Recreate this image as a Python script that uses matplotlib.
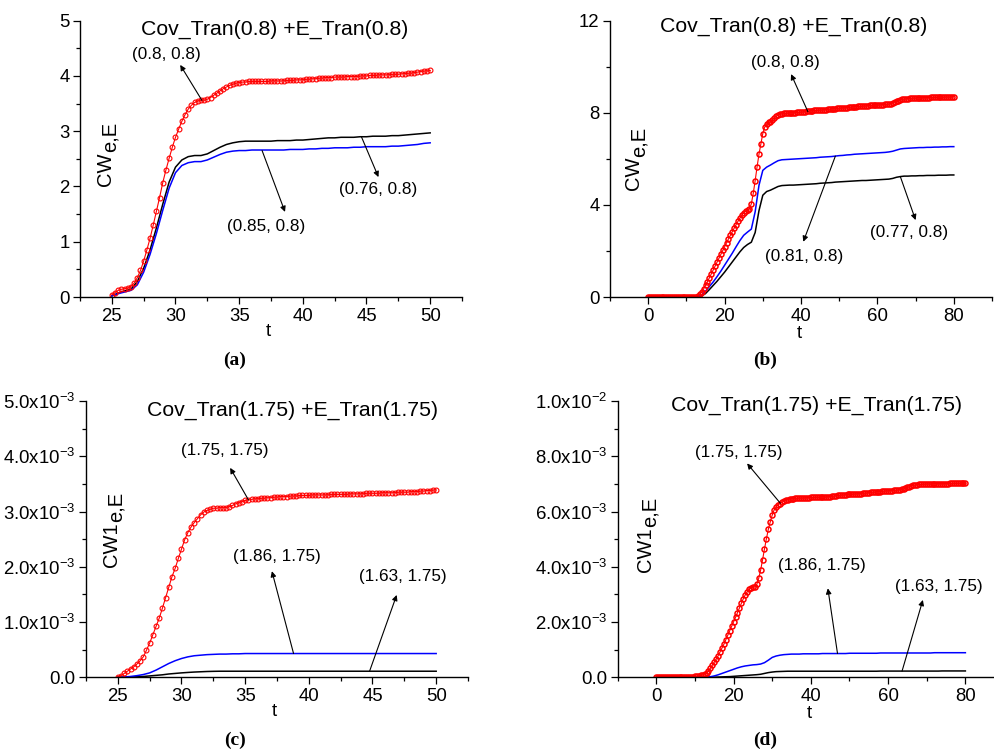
import numpy as np
import matplotlib
matplotlib.use("Agg")
import matplotlib.pyplot as plt
from matplotlib.ticker import MultipleLocator, FuncFormatter

plt.rcParams['font.family'] = ['Liberation Sans', 'DejaVu Sans']
plt.rcParams['mathtext.fontset'] = 'custom'
plt.rcParams['mathtext.rm'] = 'Liberation Sans'
plt.rcParams['mathtext.it'] = 'Liberation Sans:italic'

# ---------------- data ----------------
# panel (a): t = 25..50, red every 0.25, lines every 0.5
t_a_red = np.arange(25, 50.001, 0.25)
t_a_line = np.arange(25, 50.001, 0.5)
a_red = [
    0.04, 0.08, 0.12, 0.14,
    0.15, 0.16, 0.19, 0.25,
    0.35, 0.48, 0.65, 0.85,
    1.06, 1.30, 1.55, 1.80,
    2.07, 2.30, 2.51, 2.71,
    2.89, 3.04, 3.18, 3.30,
    3.40, 3.47, 3.52, 3.55,
    3.56, 3.56, 3.58, 3.61,
    3.65, 3.69, 3.73, 3.77,
    3.80, 3.83, 3.85, 3.87,
    3.88, 3.89, 3.89, 3.90,
    3.90, 3.90, 3.90, 3.90,
    3.90, 3.90, 3.91, 3.91,
    3.91, 3.91, 3.91, 3.92,
    3.92, 3.92, 3.93, 3.93,
    3.93, 3.94, 3.94, 3.95,
    3.95, 3.96, 3.96, 3.97,
    3.97, 3.97, 3.98, 3.98,
    3.98, 3.98, 3.99, 3.99,
    3.99, 3.99, 4.00, 4.00,
    4.00, 4.01, 4.01, 4.01,
    4.02, 4.02, 4.02, 4.02,
    4.03, 4.03, 4.03, 4.04,
    4.04, 4.05, 4.05, 4.06,
    4.07, 4.08, 4.09, 4.09,
    4.10]
a_black = [
    0.02, 0.07, 0.11, 0.14, 0.28, 0.52, 0.85, 1.25, 1.68, 2.08,
    2.35, 2.48, 2.54, 2.56, 2.56, 2.59, 2.65, 2.71, 2.76, 2.79,
    2.81, 2.82, 2.82, 2.82, 2.82, 2.82, 2.83, 2.83, 2.83, 2.84,
    2.84, 2.85, 2.86, 2.87, 2.88, 2.88, 2.89, 2.89, 2.89, 2.90,
    2.90, 2.91, 2.91, 2.91, 2.92, 2.92, 2.93, 2.94, 2.95, 2.96,
    2.97]
a_blue = [
    0.02, 0.06, 0.09, 0.12, 0.22, 0.45, 0.77, 1.15, 1.57, 1.97,
    2.25, 2.38, 2.43, 2.45, 2.45, 2.48, 2.53, 2.58, 2.62, 2.64,
    2.65, 2.65, 2.66, 2.66, 2.66, 2.66, 2.66, 2.66, 2.67, 2.67,
    2.67, 2.68, 2.68, 2.69, 2.69, 2.70, 2.70, 2.70, 2.71, 2.71,
    2.72, 2.72, 2.72, 2.72, 2.73, 2.73, 2.74, 2.75, 2.76, 2.78,
    2.79]

# panel (b): t = 0..80, red every 0.5, lines every 1
t_b_red = np.arange(0, 80.001, 0.5)
t_b_line = np.arange(0, 81, 1)
b_red = [
    0.00, 0.00, 0.00, 0.00, 0.00, 0.00, 0.00, 0.00, 0.00, 0.00,
    0.00, 0.00, 0.00, 0.00, 0.00, 0.00, 0.00, 0.00, 0.00, 0.00,
    0.00, 0.00, 0.00, 0.00, 0.01, 0.02, 0.05, 0.12, 0.22, 0.35,
    0.50, 0.66, 0.83, 1.00, 1.17, 1.34, 1.51, 1.68, 1.85, 2.02,
    2.19, 2.36, 2.52, 2.68, 2.84, 2.99, 3.14, 3.29, 3.43, 3.56,
    3.66, 3.73, 3.76, 3.82, 4.05, 4.50, 5.05, 5.65, 6.20, 6.65,
    7.10, 7.38, 7.52, 7.58, 7.62, 7.68, 7.76, 7.84, 7.90, 7.94,
    7.96, 7.97, 7.98, 7.99, 7.99, 8.00, 8.00, 8.01, 8.02, 8.02,
    8.03, 8.04, 8.05, 8.06, 8.07, 8.08, 8.09, 8.10, 8.10, 8.11,
    8.12, 8.13, 8.14, 8.14, 8.15, 8.16, 8.17, 8.18, 8.18, 8.19,
    8.20, 8.21, 8.22, 8.22, 8.23, 8.24, 8.25, 8.26, 8.26, 8.27,
    8.28, 8.28, 8.29, 8.30, 8.30, 8.31, 8.32, 8.32, 8.33, 8.33,
    8.34, 8.35, 8.35, 8.36, 8.37, 8.37, 8.38, 8.40, 8.42, 8.46,
    8.50, 8.53, 8.56, 8.58, 8.60, 8.61, 8.62, 8.63, 8.63, 8.64,
    8.64, 8.65, 8.65, 8.65, 8.66, 8.66, 8.66, 8.66, 8.67, 8.67,
    8.67, 8.67, 8.68, 8.68, 8.68, 8.68, 8.69, 8.69, 8.69, 8.70,
    8.70]
b_blue = [
    0, 0, 0, 0, 0, 0, 0, 0, 0, 0,
    0, 0, 0, 0.01, 0.08, 0.25, 0.45, 0.65, 0.88, 1.12,
    1.38, 1.64, 1.90, 2.18, 2.45, 2.68, 2.82, 2.95, 3.70, 4.85,
    5.50, 5.64, 5.73, 5.83, 5.92, 5.96, 5.97, 5.98, 5.99, 6.00,
    6.01, 6.02, 6.03, 6.04, 6.05, 6.07, 6.08, 6.09, 6.10, 6.12,
    6.14, 6.15, 6.17, 6.18, 6.20, 6.21, 6.22, 6.23, 6.24, 6.25,
    6.26, 6.27, 6.28, 6.30, 6.33, 6.38, 6.43, 6.45, 6.46, 6.47,
    6.48, 6.49, 6.49, 6.50, 6.50, 6.51, 6.51, 6.52, 6.52, 6.53,
    6.53]
b_black = [
    0, 0, 0, 0, 0, 0, 0, 0, 0, 0,
    0, 0, 0, 0, 0.05, 0.15, 0.32, 0.50, 0.68, 0.88,
    1.08, 1.30, 1.52, 1.74, 1.96, 2.15, 2.28, 2.38, 2.80, 3.75,
    4.42, 4.58, 4.64, 4.72, 4.80, 4.84, 4.85, 4.86, 4.86, 4.87,
    4.88, 4.89, 4.90, 4.91, 4.92, 4.94, 4.95, 4.96, 4.97, 4.99,
    5.00, 5.01, 5.02, 5.03, 5.04, 5.05, 5.06, 5.06, 5.07, 5.08,
    5.09, 5.10, 5.11, 5.12, 5.15, 5.20, 5.23, 5.25, 5.25, 5.26,
    5.26, 5.27, 5.27, 5.28, 5.28, 5.28, 5.29, 5.29, 5.29, 5.30,
    5.30]

# panel (c): values in units of 1e-3
t_c_red = np.arange(25, 50.001, 0.25)
t_c_line = np.arange(25, 50.001, 0.5)
c_red = [
    0.01, 0.03, 0.07, 0.11,
    0.15, 0.19, 0.24, 0.30,
    0.37, 0.49, 0.62, 0.77,
    0.92, 1.07, 1.25, 1.44,
    1.63, 1.82, 1.97, 2.15,
    2.32, 2.49, 2.62, 2.72,
    2.80, 2.87, 2.94, 2.99,
    3.02, 3.04, 3.06, 3.06,
    3.07, 3.07, 3.07, 3.09,
    3.11, 3.14, 3.16, 3.18,
    3.20, 3.21, 3.22, 3.23,
    3.23, 3.24, 3.24, 3.25,
    3.25, 3.26, 3.26, 3.27,
    3.27, 3.27, 3.28, 3.28,
    3.28, 3.29, 3.29, 3.29,
    3.29, 3.30, 3.30, 3.30,
    3.30, 3.30, 3.30, 3.31,
    3.31, 3.31, 3.31, 3.31,
    3.31, 3.32, 3.32, 3.32,
    3.32, 3.32, 3.33, 3.33,
    3.33, 3.33, 3.33, 3.34,
    3.34, 3.34, 3.34, 3.34,
    3.35, 3.35, 3.35, 3.35,
    3.36, 3.36, 3.36, 3.37,
    3.37, 3.38, 3.38, 3.39,
    3.39]
c_blue = [
    0.000, 0.005, 0.015, 0.030, 0.050, 0.080, 0.130, 0.190, 0.250, 0.300,
    0.340, 0.370, 0.390, 0.400, 0.410, 0.415, 0.420, 0.420, 0.425, 0.425,
    0.430, 0.430, 0.430, 0.430, 0.430, 0.430, 0.430, 0.430, 0.430, 0.430,
    0.430, 0.430, 0.430, 0.430, 0.430, 0.430, 0.430, 0.430, 0.430, 0.430,
    0.430, 0.430, 0.430, 0.430, 0.430, 0.430, 0.430, 0.430, 0.430, 0.430,
    0.430]
c_black = [
    0.000, 0.002, 0.005, 0.010, 0.015, 0.025, 0.035, 0.045, 0.060, 0.070,
    0.080, 0.088, 0.095, 0.100, 0.105, 0.108, 0.110, 0.110, 0.110, 0.110,
    0.110, 0.110, 0.110, 0.110, 0.110, 0.110, 0.110, 0.110, 0.110, 0.110,
    0.110, 0.110, 0.110, 0.110, 0.110, 0.110, 0.110, 0.110, 0.110, 0.110,
    0.110, 0.110, 0.110, 0.110, 0.110, 0.110, 0.110, 0.110, 0.110, 0.110,
    0.110]

# panel (d): values in units of 1e-3
t_d_red = np.arange(0, 80.001, 0.5)
t_d_line = np.arange(0, 81, 1)
d_red = [
    0.02, 0.02, 0.02, 0.02, 0.02, 0.02, 0.02, 0.02, 0.02, 0.02,
    0.02, 0.02, 0.02, 0.02, 0.02, 0.02, 0.02, 0.02, 0.02, 0.02,
    0.03, 0.04, 0.05, 0.07, 0.09, 0.12, 0.16, 0.23, 0.33, 0.44,
    0.55, 0.66, 0.78, 0.92, 1.06, 1.20, 1.36, 1.52, 1.68, 1.84,
    2.01, 2.17, 2.34, 2.51, 2.68, 2.84, 2.98, 3.09, 3.18, 3.23,
    3.26, 3.28, 3.36, 3.58, 3.88, 4.25, 4.65, 5.02, 5.36, 5.63,
    5.87, 6.06, 6.16, 6.24, 6.29, 6.33, 6.37, 6.40, 6.43, 6.45,
    6.46, 6.47, 6.48, 6.48, 6.49, 6.49, 6.49, 6.50, 6.50, 6.50,
    6.51, 6.51, 6.51, 6.52, 6.52, 6.52, 6.53, 6.53, 6.53, 6.54,
    6.54, 6.55, 6.56, 6.57, 6.58, 6.59, 6.60, 6.60, 6.61, 6.62,
    6.62, 6.63, 6.63, 6.64, 6.64, 6.65, 6.65, 6.66, 6.67, 6.67,
    6.68, 6.69, 6.70, 6.70, 6.71, 6.72, 6.72, 6.73, 6.74, 6.75,
    6.75, 6.76, 6.76, 6.77, 6.77, 6.78, 6.79, 6.80, 6.82, 6.84,
    6.87, 6.90, 6.93, 6.95, 6.96, 6.97, 6.98, 6.98, 6.99, 6.99,
    7.00, 7.00, 7.00, 7.00, 7.01, 7.01, 7.01, 7.01, 7.01, 7.01,
    7.01, 7.01, 7.02, 7.02, 7.02, 7.02, 7.02, 7.02, 7.02, 7.02,
    7.02]
d_blue = [
    0, 0, 0, 0, 0, 0, 0, 0, 0, 0,
    0, 0, 0, 0.005, 0.02, 0.05, 0.09, 0.14, 0.19, 0.24,
    0.29, 0.34, 0.38, 0.41, 0.43, 0.45, 0.46, 0.48, 0.53, 0.62,
    0.72, 0.77, 0.80, 0.82, 0.83, 0.84, 0.84, 0.84, 0.85, 0.85,
    0.85, 0.85, 0.85, 0.86, 0.86, 0.86, 0.86, 0.86, 0.86, 0.86,
    0.87, 0.87, 0.87, 0.87, 0.87, 0.87, 0.87, 0.87, 0.88, 0.88,
    0.88, 0.88, 0.88, 0.88, 0.88, 0.88, 0.88, 0.88, 0.88, 0.88,
    0.88, 0.88, 0.89, 0.89, 0.89, 0.89, 0.89, 0.89, 0.89, 0.89,
    0.89]
d_black = [
    0, 0, 0, 0, 0, 0, 0, 0, 0, 0,
    0, 0, 0, 0, 0, 0.005, 0.010, 0.015, 0.020, 0.025,
    0.035, 0.045, 0.055, 0.065, 0.075, 0.085, 0.095, 0.110, 0.140, 0.170,
    0.190, 0.205, 0.210, 0.215, 0.220, 0.220, 0.220, 0.220, 0.220, 0.220,
    0.220, 0.220, 0.220, 0.220, 0.220, 0.220, 0.220, 0.220, 0.220, 0.220,
    0.220, 0.220, 0.220, 0.220, 0.220, 0.220, 0.220, 0.220, 0.225, 0.225,
    0.225, 0.225, 0.225, 0.225, 0.225, 0.225, 0.225, 0.225, 0.225, 0.225,
    0.225, 0.225, 0.225, 0.225, 0.230, 0.230, 0.230, 0.230, 0.230, 0.230,
    0.230]

titles = ["Cov_Tran(0.8) +E_Tran(0.8)", "Cov_Tran(0.8) +E_Tran(0.8)",
          "Cov_Tran(1.75) +E_Tran(1.75)", "Cov_Tran(1.75) +E_Tran(1.75)"]
panel_tags = ["(a)", "(b)", "(c)", "(d)"]

# annotations: label, text position, arrow tail (on curve), arrow head
ann_a = [("(0.8, 0.8)", (29.3, 4.39), (32.07, 3.56), (30.37, 4.20)),
         ("(0.85, 0.8)", (37.1, 1.27), (36.8, 2.65), (38.6, 1.54)),
         ("(0.76, 0.8)", (45.9, 1.95), (44.6, 2.90), (45.94, 2.17))]
ann_b = [("(0.8, 0.8)", (35.9, 10.2), (41.8, 8.05), (37.4, 9.68)),
         ("(0.81, 0.8)", (40.7, 1.74), (49.0, 6.12), (40.6, 2.40)),
         ("(0.77, 0.8)", (68.4, 2.82), (66.0, 5.23), (70.0, 3.34))]
ann_c = [("(1.75, 1.75)", (33.4, 4.11e-3), (35.26, 3.21e-3), (33.82, 3.79e-3)),
         ("(1.86, 1.75)", (37.5, 2.18e-3), (38.8, 0.43e-3), (37.1, 1.92e-3)),
         ("(1.63, 1.75)", (47.4, 1.82e-3), (44.77, 0.11e-3), (46.9, 1.49e-3))]
ann_d = [("(1.75, 1.75)", (21.3, 8.13e-3), (32.1, 6.3e-3), (23.5, 7.74e-3)),
         ("(1.86, 1.75)", (42.9, 4.04e-3), (46.9, 0.86e-3), (44.4, 3.22e-3)),
         ("(1.63, 1.75)", (73.2, 3.28e-3), (63.6, 0.22e-3), (69.0, 2.80e-3))]

W, H = 994, 751


def fx(px):
    return px / W


def fy(py):
    return 1 - py / H


def sci_fmt(v, pos):
    if abs(v) < 1e-12:
        return "0.0"
    e = int(np.floor(np.log10(abs(v)) + 1e-9))
    m = v / 10 ** e
    return r"%.1fx10$^{\mathregular{%d}}$" % (m, e)


def style(ax, xlim, ylim, xmaj, ymaj, sci=False):
    ax.set_xlim(xlim)
    ax.set_ylim(ylim)
    for s in ["top", "right"]:
        ax.spines[s].set_visible(False)
    for s in ["left", "bottom"]:
        ax.spines[s].set_linewidth(1.0)
    ax.xaxis.set_major_locator(MultipleLocator(xmaj))
    ax.xaxis.set_minor_locator(MultipleLocator(xmaj / 2))
    ax.yaxis.set_major_locator(MultipleLocator(ymaj))
    ax.yaxis.set_minor_locator(MultipleLocator(ymaj / 2))
    ax.tick_params(which="both", direction="out", width=0.9, labelsize=13.4)
    ax.tick_params(which="major", length=5)
    ax.tick_params(which="minor", length=3)
    ax.tick_params(axis="x", pad=3)
    ax.tick_params(axis="y", pad=2.5)
    if sci:
        ax.yaxis.set_major_formatter(FuncFormatter(sci_fmt))
    else:
        ax.yaxis.set_major_formatter(FuncFormatter(lambda v, p: "%d" % round(v)))


def draw(ax, t_red, red, t_line, black, blue, scale, anns, ms, mew):
    ax.plot(t_line, np.array(black) * scale, color="black", lw=1.1)
    ax.plot(t_line, np.array(blue) * scale, color="#0000ff", lw=1.1)
    ax.plot(t_red, np.array(red) * scale, color="red", lw=0.8, marker="o",
            ms=ms, mfc="none", mec="red", mew=mew)
    for label, tpos, tail, head in anns:
        ax.annotate("", xy=head, xytext=tail,
                    arrowprops=dict(arrowstyle="-|>", color="black", lw=0.8,
                                    mutation_scale=8, shrinkA=0, shrinkB=0))
        ax.text(tpos[0], tpos[1], label, ha="center", va="center", fontsize=12.3)


fig = plt.figure(figsize=(W / 100, H / 100), dpi=100)

ax_a = fig.add_axes([fx(80), fy(297), 382 / W, 276.3 / H])
ax_b = fig.add_axes([fx(610), fy(297), 382 / W, 276.3 / H])
ax_c = fig.add_axes([fx(86), fy(677.3), 382 / W, 276.3 / H])
ax_d = fig.add_axes([fx(617.7), fy(677.3), 386.3 / W, 276.3 / H])

draw(ax_a, t_a_red, a_red, t_a_line, a_black, a_blue, 1.0, ann_a, 3.5, 0.8)
style(ax_a, (22.5, 52.5), (0, 5), 5, 1)

draw(ax_b, t_b_red, b_red, t_b_line, b_black, b_blue, 1.0, ann_b, 3.6, 1.1)
style(ax_b, (-10, 90), (0, 12), 20, 4)

draw(ax_c, t_c_red, c_red, t_c_line, c_black, c_blue, 1e-3, ann_c, 3.5, 0.8)
style(ax_c, (22.5, 52.5), (0, 5e-3), 5, 1e-3, sci=True)

draw(ax_d, t_d_red, d_red, t_d_line, d_black, d_blue, 1e-3, ann_d, 3.6, 1.1)
style(ax_d, (-10, 90), (0, 1e-2), 20, 2e-3, sci=True)

# titles
for (px, py), txt in zip([(275, 29), (794, 26), (293, 410), (817, 405)], titles):
    fig.text(fx(px), fy(py), txt, ha="center", va="center", fontsize=15.3)

# y labels drawn inside the plot area, subscript part lowered at same size
ylabs = [("CW", "e,E", 105, 152), ("CW", "e,E", 634, 157),
         ("CW1", "e,E", 111, 522), ("CW1", "e,E", 645, 527)]
for main, sub, px, py in ylabs:
    fig.text(fx(px), fy(py), main, rotation=90, ha="center", va="top", fontsize=14.5)
    fig.text(fx(px + 5), fy(py), sub, rotation=90, ha="center", va="bottom", fontsize=14.5)

# x labels
for px, py in [(268, 332), (799, 334), (274, 712), (809, 713)]:
    fig.text(fx(px), fy(py), "t", ha="center", va="center", fontsize=13.4)

# panel tags
for (px, py), tag in zip([(235, 360), (765, 360), (235, 740), (765, 740)], panel_tags):
    fig.text(fx(px), fy(py), tag, ha="center", va="center", fontsize=14,
             family="Liberation Serif", weight="bold")

fig.savefig("out.png", dpi=100)
